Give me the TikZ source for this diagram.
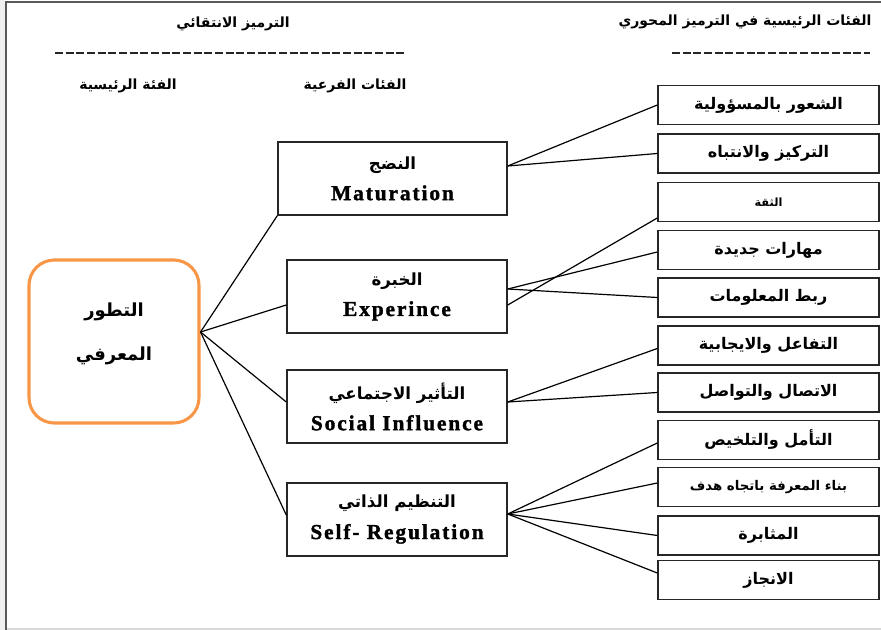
\documentclass[tikz,border=0pt]{standalone}
\usepackage{fontspec}
\setmainfont{Liberation Serif}
\newfontfamily\ar[Script=Arabic]{DejaVu Sans}
\TeXXeTstate=1
\usetikzlibrary{calc}
\definecolor{orng}{HTML}{F79646}
\tikzset{
  rbox/.style={draw=black!85, line width=1.1pt, inner sep=0pt, minimum width=165.75pt, minimum height=29.5pt,
     font=\ar\bfseries\fontsize{12}{13}\selectfont},
  mbox/.style={draw=black!85, line width=1.1pt, inner sep=0pt, minimum width=165pt, minimum height=54.75pt, align=center},
  conn/.style={draw=black, line width=0.9pt},
  hdr/.style={font=\ar\bfseries\fontsize{10.5}{12}\selectfont, inner sep=0pt},
  dline/.style={line width=1.2pt, black!85, dash pattern=on 6pt off 2pt}
}
\newcommand{\AR}[1]{\raisebox{-2pt}{\beginR #1\endR}}
\newcommand{\ARm}{\ar\bfseries\fontsize{12.5}{16}\selectfont}
\newcommand{\ENm}{\rmfamily\bfseries\fontsize{16}{17}\selectfont\addfontfeatures{LetterSpace=9,FakeBold=1.5}}
\begin{document}
\begin{tikzpicture}[x=0.75pt,y=-0.75pt]
\useasboundingbox (0,0) rectangle (881,630);
\fill[white] (0,0) rectangle (881,630);
\fill[black!6] (0,0) rectangle (5,630);
\draw[black!65, line width=1.5pt] (6,630) -- (6,2) -- (881,2);
\draw[black!15, line width=1.5pt] (7,628.5) -- (881,628.5);
% headers
\node[hdr] (h1) at (233,24) {\AR{الترميز الانتقائي}};
\node[hdr] (h2) at (745,22) {\AR{الفئات الرئيسية في الترميز المحوري}};
\node[hdr] (h3) at (128,86) {\AR{الفئة الرئيسية}};
\node[hdr] (h4) at (355,86) {\AR{الفئات الفرعية}};
\coordinate (d1a) at (55,53); \coordinate (d1b) at (405,53);
\coordinate (d2a) at (672,53); \coordinate (d2b) at (870,53);
\draw[dline] (d1a) -- (d1b);
\draw[dline] (d2a) -- (d2b);
% left box
\node[draw=orng, line width=2.3pt, rounded corners=19pt, minimum width=127.5pt, minimum height=122.25pt, inner sep=0pt] (lft) at (114,341.5) {};
\node[align=center, inner sep=0pt, font=\ar\bfseries\fontsize{13.5}{33}\selectfont] (lftt) at (114,334) {\AR{التطور}\\\AR{المعرفي}};
% middle boxes
\node[mbox, minimum width=171.75pt] (mat) at (392.5,178.5)
  {\ARm\AR{النضج}\\[8pt]\ENm Maturation};
\node[mbox] (exp) at (397,296.5)
  {\ARm\AR{الخبرة}\\[8pt]\ENm Experince};
\node[mbox] (soc) at (397,406.5)
  {\ARm\AR{التأثير الاجتماعي}\\[8pt]\ENm Social Influence};
\node[mbox] (slf) at (397,519.5)
  {\ARm\AR{التنظيم الذاتي}\\[8pt]\ENm Self- Regulation};
% right boxes
\node[rbox] (r1) at (768.5,105) {\AR{الشعور بالمسؤولية}};
\node[rbox] (r2) at (768.5,153.5) {\AR{التركيز والانتباه}};
\node[rbox, font=\ar\bfseries\fontsize{8.5}{10}\selectfont] (r3) at (768.5,202) {\AR{الثقة}};
\node[rbox] (r4) at (768.5,250) {\AR{مهارات جديدة}};
\node[rbox] (r5) at (768.5,297.5) {\AR{ربط المعلومات}};
\node[rbox] (r6) at (768.5,345.5) {\AR{التفاعل والايجابية}};
\node[rbox] (r7) at (768.5,392.5) {\AR{الاتصال والتواصل}};
\node[rbox] (r8) at (768.5,440) {\AR{التأمل والتلخيص}};
\node[rbox, font=\ar\bfseries\fontsize{10}{12}\selectfont] (r9) at (768.5,487) {\AR{بناء المعرفة باتجاه هدف}};
\node[rbox] (r10) at (768.5,535.5) {\AR{المثابرة}};
\node[rbox] (r11) at (768.5,580) {\AR{الانجاز}};
% connectors from left box
\coordinate (lp) at ($(lft.east)+(0,-9.5)$);
\draw[conn] (lp) -- (mat.south west);
\draw[conn] (lp) -- ($(exp.west)+(0,8.5)$);
\draw[conn] (lp) -- ($(soc.west)+(0,-4.5)$);
\draw[conn] (lp) -- ($(slf.west)+(0,-4.5)$);
% maturation
\draw[conn] ($(mat.east)+(0,-12.5)$) -- (r1.west);
\draw[conn] ($(mat.east)+(0,-12.5)$) -- (r2.west);
% experience
\draw[conn] ($(exp.east)+(0,-7.5)$) -- ($(r4.west)+(0,2)$);
\draw[conn] ($(exp.east)+(0,-7.5)$) -- (r5.west);
\draw[conn] ($(exp.east)+(0,8.5)$) -- ($(r3.west)+(0,16)$);
% social
\draw[conn] ($(soc.east)+(0,-4.5)$) -- ($(r6.west)+(0,3)$);
\draw[conn] ($(soc.east)+(0,-4.5)$) -- (r7.west);
% self regulation
\draw[conn] ($(slf.east)+(0,-5.5)$) -- ($(r8.west)+(0,3)$);
\draw[conn] ($(slf.east)+(0,-5.5)$) -- ($(r9.west)+(0,-4)$);
\draw[conn] ($(slf.east)+(0,-5.5)$) -- (r10.west);
\draw[conn] ($(slf.east)+(0,-5.5)$) -- ($(r11.west)+(0,-7)$);
\end{tikzpicture}
\end{document}
